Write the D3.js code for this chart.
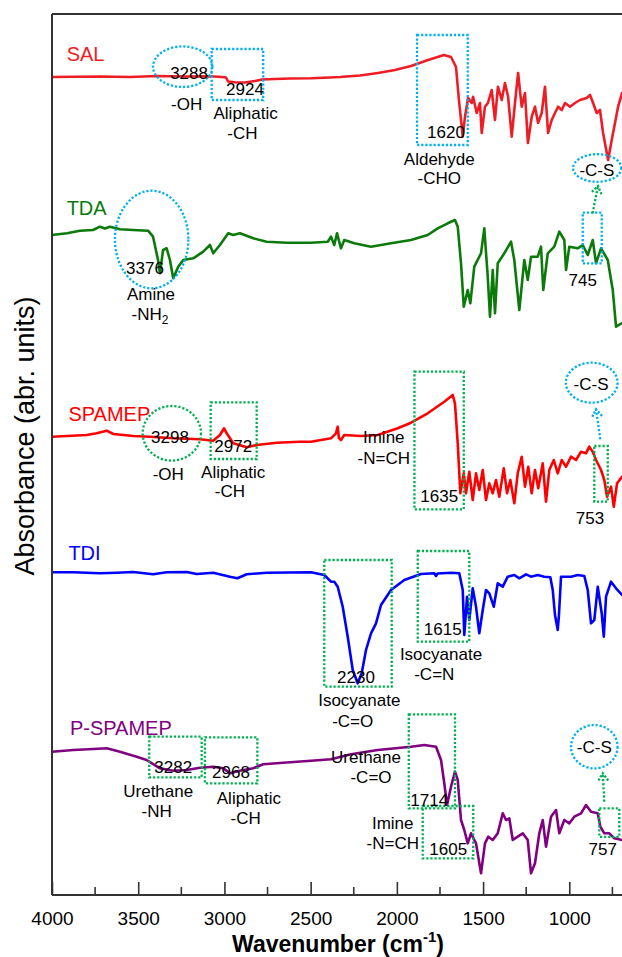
<!DOCTYPE html>
<html>
<head>
<meta charset="utf-8">
<script src="https://cdn.jsdelivr.net/npm/d3@7"></script>
<style>
  html, body { margin: 0; padding: 0; background: #ffffff; }
  svg { display: block; }
  text { font-family: "Liberation Sans", Arial, Helvetica, sans-serif; }
</style>
</head>
<body>
<svg id="chart" width="622" height="957"></svg>
<script>
// ---- spectra: [wavenumber (cm-1), absorbance (arbitrary, stacked)] ----
const salSpectrum = [
  [4000,81.8],[3722,81.85],[3548,81.8],[3391,81.9],[3229,81.85],[3084,81.87],[3014,81.8],[2991,81.75],
  [2979,81.35],[2939,81.27],[2881,81.25],[2823,81.4],[2782,81.55],[2707,81.6],[2620,81.65],[2498,81.67],
  [2388,81.75],[2330,81.8],[2214,81.95],[2109,82.2],[2011,82.5],[1918,82.9],[1819,83.5],[1727,84.0],
  [1686,83.8],[1657,82.8],[1640,79.5],[1618,75.83],[1605,77.83],[1587,79.7],[1566,79.2],[1558,79.83],
  [1537,78.2],[1518,79.2],[1508,76.2],[1489,78.83],[1472,79.2],[1450,80.5],[1431,77.5],[1414,80.83],
  [1392,79.5],[1373,81.2],[1355,79.83],[1334,75.83],[1315,79.2],[1297,82.2],[1276,78.83],[1257,80.2],
  [1240,75.2],[1218,77.83],[1199,78.83],[1181,77.2],[1160,78.2],[1141,80.83],[1123,76.2],[1102,77.5],
  [1083,78.2],[1065,78.83],[1044,78.5],[1025,79.2],[996,78.83],[967,79.2],[938,79.5],[899,79.7],
  [880,80.0],[862,79.2],[841,78.2],[822,78.5],[804,76.2],[775,73.5],[754,75.5],[735,77.2],[717,78.83],
  [694,80.2],[648,80.5]
];
const tdaSpectrum = [
  [4000,66.0],[3913,66.17],[3838,66.43],[3762,66.5],[3722,66.83],[3693,66.65],[3664,66.83],[3606,66.57],
  [3530,66.5],[3443,66.43],[3414,65.83],[3385,63.5],[3374,62.17],[3356,64.5],[3335,64.67],[3316,63.5],
  [3297,61.67],[3268,62.83],[3239,63.5],[3181,63.67],[3123,64.33],[3084,65.0],[3065,64.17],[3026,65.0],
  [2978,66.17],[2949,66.0],[2910,66.17],[2833,65.67],[2755,65.33],[2639,65.23],[2498,65.23],[2401,65.33],
  [2382,65.83],[2363,65.0],[2347,66.17],[2324,64.67],[2305,65.5],[2247,65.17],[2150,64.83],[2034,65.17],
  [1918,65.5],[1821,66.0],[1763,66.67],[1705,67.17],[1663,67.5],[1647,66.83],[1628,63.17],[1612,58.83],
  [1589,60.5],[1574,59.17],[1551,62.83],[1512,64.17],[1493,66.67],[1473,61.83],[1460,57.83],[1444,62.5],
  [1431,58.17],[1415,63.17],[1377,64.17],[1338,65.33],[1319,63.5],[1290,58.5],[1261,63.5],[1241,61.5],
  [1222,63.83],[1183,63.83],[1164,64.83],[1151,60.5],[1125,64.17],[1087,64.83],[1058,66.33],[1029,65.5],
  [1019,62.5],[1000,64.83],[951,64.67],[922,65.0],[893,64.0],[864,65.5],[845,63.17],[816,64.67],
  [777,63.5],[748,60.5],[729,56.83],[694,57.2],[648,57.5]
];
const spamepSpectrum = [
  [4000,45.83],[3913,45.9],[3799,46.0],[3741,46.17],[3683,46.43],[3644,46.1],[3528,45.9],[3432,45.83],
  [3297,45.67],[3142,45.57],[3065,45.43],[3026,46.0],[3002,46.67],[2987,46.17],[2949,45.17],[2871,44.77],
  [2813,45.0],[2697,45.23],[2562,45.33],[2498,45.33],[2382,45.67],[2353,46.17],[2343,46.83],[2336,45.7],
  [2324,45.5],[2305,46.0],[2208,45.9],[2111,46.0],[1995,46.67],[1918,47.23],[1821,48.17],[1725,49.33],
  [1676,50.0],[1663,49.17],[1647,45.17],[1632,40.17],[1612,42.17],[1599,40.17],[1580,42.33],[1560,39.5],
  [1541,42.17],[1522,40.5],[1502,42.5],[1483,39.5],[1464,41.17],[1444,40.17],[1425,41.5],[1406,39.83],
  [1380,42.67],[1361,40.17],[1342,41.5],[1319,39.17],[1299,42.17],[1276,43.83],[1257,40.83],[1238,42.83],
  [1218,40.17],[1199,42.5],[1180,40.67],[1154,43.17],[1135,39.33],[1116,42.5],[1090,43.5],[1067,42.17],
  [1044,43.5],[1019,42.83],[990,43.83],[961,43.5],[932,44.33],[903,44.17],[884,44.83],[864,44.33],
  [845,43.5],[816,42.5],[797,41.5],[781,39.83],[758,40.83],[742,38.83],[723,41.17],[694,41.83],[648,42.0]
];
const tdiSpectrum = [
  [4000,32.27],[3876,32.27],[3722,32.17],[3625,32.23],[3529,32.3],[3413,32.07],[3335,32.27],[3219,32.3],
  [3161,32.1],[3065,32.23],[2968,31.83],[2925,31.67],[2871,32.07],[2755,32.23],[2498,32.27],[2421,32.0],
  [2382,31.33],[2363,31.33],[2343,30.83],[2314,28.83],[2285,25.83],[2256,22.5],[2227,21.17],[2204,22.17],
  [2179,24.5],[2150,26.17],[2121,27.17],[2092,29.0],[2034,30.5],[1957,31.5],[1860,32.1],[1783,32.17],
  [1773,31.9],[1764,32.15],[1686,32.23],[1638,32.17],[1618,30.5],[1609,26.0],[1593,29.83],[1580,27.5],
  [1560,30.67],[1541,28.83],[1522,26.17],[1502,28.5],[1483,30.5],[1464,30.17],[1438,28.83],[1415,31.17],
  [1386,30.83],[1357,31.83],[1319,32.0],[1290,31.67],[1251,32.07],[1222,31.83],[1183,32.0],[1145,31.83],
  [1110,31.77],[1096,30.5],[1083,28.0],[1067,26.5],[1060,28.0],[1048,31.83],[990,31.83],[951,32.0],
  [913,31.9],[893,30.5],[874,27.17],[855,27.5],[835,30.83],[812,28.17],[800,25.83],[787,29.83],
  [758,31.33],[729,30.67],[694,30.0],[648,29.7]
];
const pSpamepSpectrum = [
  [4000,14.33],[3876,14.5],[3760,14.6],[3683,14.67],[3606,14.33],[3509,13.83],[3451,13.5],[3374,12.67],
  [3297,12.43],[3219,12.5],[3142,12.73],[3065,12.83],[3007,12.67],[2968,12.17],[2910,12.43],[2833,12.67],
  [2775,13.07],[2659,13.23],[2498,13.43],[2382,13.57],[2266,14.07],[2111,14.5],[1918,14.83],[1841,15.0],
  [1773,14.83],[1744,13.5],[1725,11.17],[1709,9.0],[1686,10.83],[1663,12.33],[1647,11.5],[1628,7.5],
  [1609,6.5],[1589,5.17],[1570,6.17],[1541,5.17],[1512,2.17],[1489,5.17],[1470,5.83],[1444,5.5],
  [1415,6.17],[1386,8.17],[1367,7.5],[1348,7.67],[1328,5.5],[1299,5.83],[1270,6.17],[1241,5.5],
  [1222,2.17],[1199,3.17],[1174,6.17],[1154,7.5],[1135,4.83],[1106,7.83],[1077,8.5],[1058,6.17],
  [1029,7.5],[1000,7.17],[971,7.83],[932,8.17],[903,9.0],[874,8.33],[835,8.17],[820,6.83],[797,6.17],
  [768,6.17],[739,5.67],[694,5.5],[648,5.5]
];

// ---- series names, in drawing order ----
const seriesNames = ["SAL", "TDA", "SPAMEP", "TDI", "P-SPAMEP"];
const seriesData = [salSpectrum, tdaSpectrum, spamepSpectrum, tdiSpectrum, pSpamepSpectrum];
const seriesColors = ["#ee1c25", "#0b7a0b", "#ff0000", "#0000ff", "#800080"];
// label anchor for each series name [wavenumber, absorbance]
const seriesLabelAt = [[3915, 83.4], [3915, 68.0], [3905, 47.43], [3905, 33.5], [3896, 16.0]];

// ---- axis ticks ----
const xTickLabels = [4000, 3500, 3000, 2500, 2000, 1500, 1000];
const xMinorTicks = [3750, 3250, 2750, 2250, 1750, 1250, 750];

// ---- band assignments: dotted boxes, ellipses, arrows and notes ----
const BLUE = "#00b0f0", GREEN = "#00b050";
const boxes = [
  { x0: 3074, x1: 2775, y0: 84.6, y1: 79.5, c: BLUE },
  { x0: 1883, x1: 1589, y0: 86.0, y1: 75.0, c: BLUE },
  { x0: 922, x1: 812, y0: 68.23, y1: 63.17, c: BLUE },
  { x0: 3080, x1: 2813, y0: 49.27, y1: 43.6, c: GREEN },
  { x0: 1898, x1: 1612, y0: 52.33, y1: 38.57, c: GREEN },
  { x0: 855, x1: 777, y0: 44.9, y1: 39.33, c: GREEN },
  { x0: 2421, x1: 2030, y0: 33.5, y1: 20.83, c: GREEN },
  { x0: 1879, x1: 1580, y0: 34.4, y1: 25.33, c: GREEN },
  { x0: 3436, x1: 3132, y0: 15.83, y1: 11.77, c: GREEN },
  { x0: 3113, x1: 2809, y0: 15.77, y1: 11.17, c: GREEN },
  { x0: 1931, x1: 1663, y0: 18.07, y1: 8.67, c: GREEN },
  { x0: 1850, x1: 1557, y0: 8.9, y1: 3.67, c: GREEN },
  { x0: 826, x1: 710, y0: 8.67, y1: 5.82, c: GREEN }
];
const ellipses = [
  { cx: 3242, cy: 82.83, rx: 172, ry: 2.03, c: BLUE },
  { cx: 838, cy: 72.7, rx: 140, ry: 1.38, c: BLUE },
  { cx: 3422, cy: 65.55, rx: 213, ry: 4.88, c: BLUE },
  { cx: 3305, cy: 46.17, rx: 169, ry: 2.73, c: GREEN },
  { cx: 870, cy: 51.23, rx: 150, ry: 2.0, c: BLUE },
  { cx: 855, cy: 14.83, rx: 135, ry: 2.17, c: BLUE }
];
const arrows = [
  { x0: 865, y0: 68.17, x1: 834, y1: 70.9, c: GREEN },
  { x0: 820, y0: 45.57, x1: 845, y1: 48.57, c: BLUE },
  { x0: 797, y0: 9.33, x1: 806, y1: 12.17, c: GREEN }
];
const notes = [
  ["3288", 3205, 81.6], ["-OH", 3219, 78.5],
  ["2924", 2881, 80.0], ["Aliphatic", 2877, 77.57], ["-CH", 2896, 75.57],
  ["1620", 1715, 75.67], ["Aldehyde", 1754, 73.0], ["-CHO", 1754, 71.07],
  ["-C-S", 840, 71.93],
  ["3376", 3461, 62.1], ["Amine", 3426, 59.5], ["-NH|2", 3432, 57.5],
  ["745", 922, 60.9],
  ["3298", 3316, 45.17], ["-OH", 3326, 41.5],
  ["2972", 2949, 44.33], ["Aliphatic", 2949, 41.67], ["-CH", 2968, 39.77],
  ["Imine", 2076, 45.17], ["-N=CH", 2076, 43.1],
  ["1635", 1754, 39.33],
  ["-C-S", 874, 50.5], ["753", 880, 37.1],
  ["2230", 2237, 21.17], ["Isocyanate", 2218, 18.9], ["-C=O", 2256, 16.83],
  ["1615", 1734, 26.0], ["Isocyanate", 1744, 23.5], ["-C=N", 1783, 21.5],
  ["3282", 3297, 12.17], ["Urethane", 3384, 9.83], ["-NH", 3393, 7.77],
  ["2968", 2962, 11.67], ["Aliphatic", 2858, 9.1], ["-CH", 2877, 7.1],
  ["Urethane", 2179, 13.17], ["-C=O", 2150, 11.23],
  ["1714", 1812, 8.9], ["Imine", 2024, 6.57], ["-N=CH", 2024, 4.57],
  ["1605", 1702, 4.0],
  ["-C-S", 855, 14.23], ["757", 806, 4.0]
];

// ---- layout ----
const W = 622, H = 957;
const frameLeft = 52, frameTop = 14, frameBottom = 895;
const svg = d3.select("#chart");

const x = d3.scaleLinear().domain([4000, 1000]).range([frameLeft, 569.3]);
const y = d3.scaleLinear().domain([0, 88]).range([frameBottom, frameBottom - 880]);

// spectra
const line = d3.line().x(d => x(d[0])).y(d => y(d[1]));
svg.append("g").selectAll("path").data(seriesData).join("path")
  .attr("d", line)
  .attr("fill", "none")
  .attr("stroke", (d, i) => seriesColors[i])
  .attr("stroke-width", 2.6)
  .attr("stroke-linejoin", "round");

// series names
svg.append("g").selectAll("text").data(seriesNames).join("text")
  .attr("x", (d, i) => x(seriesLabelAt[i][0]))
  .attr("y", (d, i) => y(seriesLabelAt[i][1]))
  .attr("font-size", 20)
  .attr("fill", (d, i) => seriesColors[i])
  .text(d => d);

// dotted annotation shapes
const dot = sel => sel.attr("fill", "none").attr("stroke-width", 2.3)
  .attr("stroke-dasharray", "2.2 1.9");
const ann = svg.append("g");
ann.selectAll("rect").data(boxes).join("rect")
  .attr("x", d => x(d.x0)).attr("y", d => y(d.y0))
  .attr("width", d => x(d.x1) - x(d.x0)).attr("height", d => y(d.y1) - y(d.y0))
  .attr("stroke", d => d.c).call(dot);
ann.selectAll("ellipse").data(ellipses).join("ellipse")
  .attr("cx", d => x(d.cx)).attr("cy", d => y(d.cy))
  .attr("rx", d => x(d.cx - d.rx) - x(d.cx)).attr("ry", d => y(d.cy - d.ry) - y(d.cy))
  .attr("stroke", d => d.c).call(dot);
arrows.forEach(a => {
  const x0 = x(a.x0), y0 = y(a.y0), x1 = x(a.x1), y1 = y(a.y1);
  const ang = Math.atan2(y1 - y0, x1 - x0);
  const L = 9, spread = 0.6;
  ann.append("path")
    .attr("d", `M${x0},${y0}L${x1},${y1}`)
    .attr("stroke", a.c).call(dot);
  ann.append("path")
    .attr("d", `M${x1 - L * Math.cos(ang - spread)},${y1 - L * Math.sin(ang - spread)}L${x1},${y1}` +
               `L${x1 - L * Math.cos(ang + spread)},${y1 - L * Math.sin(ang + spread)}`)
    .attr("stroke", a.c).attr("fill", "none").attr("stroke-width", 2.3)
    .attr("stroke-dasharray", "2.2 1.6");
});

// notes (a "|" marks a subscript)
const noteSel = ann.selectAll("text").data(notes).join("text")
  .attr("x", d => x(d[1])).attr("y", d => y(d[2]))
  .attr("text-anchor", "middle").attr("font-size", 17).attr("fill", "#000");
noteSel.each(function (d) {
  const parts = d[0].split("|");
  const t = d3.select(this);
  t.append("tspan").text(parts[0]);
  if (parts[1]) t.append("tspan").attr("font-size", 12).attr("dy", 4).text(parts[1]);
});

// frame
svg.append("line").attr("x1", frameLeft).attr("x2", W).attr("y1", frameTop).attr("y2", frameTop)
  .attr("stroke", "#333").attr("stroke-width", 2);
svg.append("line").attr("x1", frameLeft).attr("x2", frameLeft).attr("y1", frameTop).attr("y2", frameBottom)
  .attr("stroke", "#333").attr("stroke-width", 2);

// bottom axis with inward ticks
const xAxis = svg.append("g").attr("transform", `translate(0,${frameBottom})`)
  .call(d3.axisBottom(x).tickValues(xTickLabels).tickFormat(d3.format("d")).tickSizeInner(-13).tickSizeOuter(0).tickPadding(16.5));
xAxis.select(".domain").attr("d", `M${frameLeft},0H${W}`).attr("stroke", "#333").attr("stroke-width", 2);
xAxis.selectAll(".tick line").attr("stroke", "#333").attr("stroke-width", 1.6);
xAxis.selectAll(".tick text").attr("font-size", 19).attr("fill", "#000")
  .attr("font-family", "'Liberation Sans', Arial, sans-serif");
svg.append("g").selectAll("line").data(xMinorTicks).join("line")
  .attr("x1", d => x(d)).attr("x2", d => x(d)).attr("y1", frameBottom).attr("y2", frameBottom - 8)
  .attr("stroke", "#333").attr("stroke-width", 1.6);

// axis titles
const xt = svg.append("text").attr("x", 338).attr("y", 952).attr("text-anchor", "middle")
  .attr("font-size", 23).attr("font-weight", "bold").attr("fill", "#000");
xt.append("tspan").text("Wavenumber (cm");
xt.append("tspan").attr("font-size", 15).attr("dy", -10).text("-1");
xt.append("tspan").attr("dy", 10).text(")");

svg.append("text").attr("transform", "translate(34,436) rotate(-90)")
  .attr("text-anchor", "middle").attr("font-size", 27).attr("fill", "#000")
  .text("Absorbance (abr. units)");
</script>
</body>
</html>
